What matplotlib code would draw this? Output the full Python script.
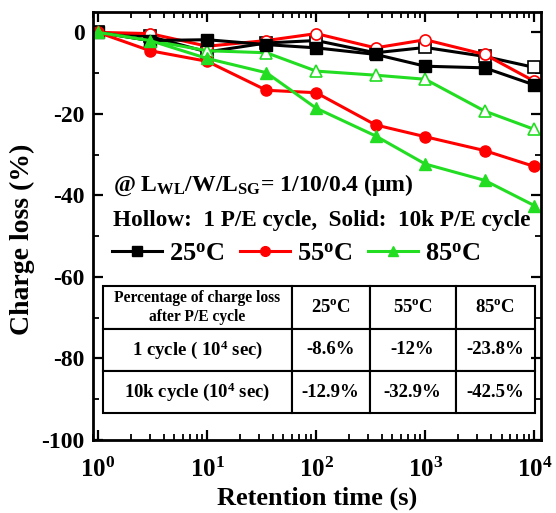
import matplotlib
matplotlib.use('Agg')
import matplotlib.pyplot as plt
from matplotlib.ticker import MultipleLocator, LogLocator, NullFormatter
from matplotlib.lines import Line2D

plt.rcParams['font.family'] = ['Liberation Serif', 'DejaVu Serif']
plt.rcParams['font.weight'] = 'bold'
plt.rcParams['mathtext.fontset'] = 'custom'
plt.rcParams['mathtext.rm'] = 'Liberation Serif:bold'
plt.rcParams['mathtext.it'] = 'Liberation Serif:bold'
plt.rcParams['mathtext.bf'] = 'Liberation Serif:bold'
plt.rcParams['axes.unicode_minus'] = False

# ---- data ----
time_s = [1, 3, 10, 35, 100, 350, 1000, 3500, 10000]
loss_25_1 = [0, -1.0, -4.8, -2.6, -2.0, -5.0, -3.7, -5.9, -8.6]
loss_25_10k = [0, -2.0, -1.8, -3.0, -3.8, -5.4, -8.3, -8.7, -12.9]
loss_55_1 = [0, -0.3, -3.4, -2.0, -0.3, -3.8, -1.8, -5.4, -12.0]
loss_55_10k = [0, -4.5, -7.1, -14.2, -14.8, -22.7, -25.6, -29.0, -32.9]
loss_85_1 = [0, -2.0, -4.5, -5.0, -9.5, -10.5, -11.5, -19.3, -23.8]
loss_85_10k = [0, -2.0, -6.4, -9.9, -18.6, -25.4, -32.3, -36.3, -42.5]

temps = ['25$^{\\mathregular{o}}$C', '55$^{\\mathregular{o}}$C', '85$^{\\mathregular{o}}$C']

table_header = ['Percentage of charge loss\nafter P/E cycle',
                '25$^{\\mathregular{o}}$C', '55$^{\\mathregular{o}}$C', '85$^{\\mathregular{o}}$C']
table_rows = [['1 cycle ( 10$^{4}$ sec)', '-8.6%', '-12%', '-23.8%'],
              ['10k cycle (10$^{4}$ sec)', '-12.9%', '-32.9%', '-42.5%']]

colors = ['black', '#ff0000', '#22dd22']
markers = ['s', 'o', '^']

# ---- figure ----
fig = plt.figure(figsize=(5.56, 5.13), dpi=100)
ax = fig.add_axes([93/556, (513-440)/513, 448/556, 428/513])

one_cycle = [loss_25_1, loss_55_1, loss_85_1]
ten_k = [loss_25_10k, loss_55_10k, loss_85_10k]

for vals, c, m in zip(one_cycle, colors, markers):
    ax.plot(time_s, vals, color=c, marker=m, lw=2.2, ms=8,
            markerfacecolor='white', markeredgecolor=c, markeredgewidth=1.2)
for vals, c, m in zip(ten_k, colors, markers):
    ax.plot(time_s, vals, color=c, marker=m, lw=2.2, ms=8,
            markerfacecolor=c, markeredgecolor=c)

ax.set_xscale('log')
ax.set_xlim(0.9, 1.15e4)
ax.set_ylim(-100, 5)
ax.yaxis.set_major_locator(MultipleLocator(20))
ax.yaxis.set_minor_locator(MultipleLocator(10))
ax.xaxis.set_major_locator(LogLocator(base=10, numticks=10))
ax.xaxis.set_minor_locator(LogLocator(base=10, subs=range(2, 10), numticks=20))
ax.xaxis.set_minor_formatter(NullFormatter())

ax.tick_params(which='both', direction='in', top=True, right=True)
ax.tick_params(axis='y', labelsize=17)
ax.tick_params(axis='x', labelsize=18)
ax.tick_params(which='major', length=7, width=1.6)
ax.tick_params(which='minor', length=4, width=1.3)
ax.tick_params(axis='x', which='major', pad=13)
ax.tick_params(axis='y', which='major', pad=6)
for s in ax.spines.values():
    s.set_linewidth(2.0)

ax.set_xlabel('Retention time (s)', fontsize=19, fontweight='bold', labelpad=3)
ax.set_ylabel('Charge loss (%)', fontsize=20, fontweight='bold', labelpad=4)
ax.yaxis.set_label_coords(-0.13, 0.47)

ax.text(0.045, 0.596, '@ L$_{\\mathregular{WL}}$/W/L$_{\\mathregular{SG}}$= 1/10/0.4 (μm)',
        transform=ax.transAxes, fontsize=17, fontweight='bold', va='center', ha='left')
ax.text(0.045, 0.514, 'Hollow:  1 P/E cycle,  Solid:  10k P/E cycle',
        transform=ax.transAxes, fontsize=16.7, fontweight='bold', va='center', ha='left')

handles = [Line2D([], [], color=c, marker=m, lw=2.2, ms=7) for c, m in zip(colors, markers)]
ax.legend(handles, temps, loc='center left', bbox_to_anchor=(0.025, 0.435), ncol=3,
          frameon=False, handlelength=1.9, handletextpad=0.25,
          columnspacing=0.6, borderaxespad=0.0, borderpad=0.3,
          prop={'size': 19, 'weight': 'bold'})

tbl = ax.table(cellText=table_rows, colLabels=table_header,
               colWidths=[189, 78, 86, 79], cellLoc='center',
               bbox=[0.0217, 0.0624, 0.964, 0.297])
tbl.auto_set_font_size(False)
for (r, c), cell in tbl.get_celld().items():
    cell.set_linewidth(1.5)
    cell.get_text().set_fontweight('bold')
    if r == 0 and c == 0:
        cell.get_text().set_fontsize(11.2)
    else:
        cell.get_text().set_fontsize(13.5)

fig.savefig('out.png', dpi=100)
